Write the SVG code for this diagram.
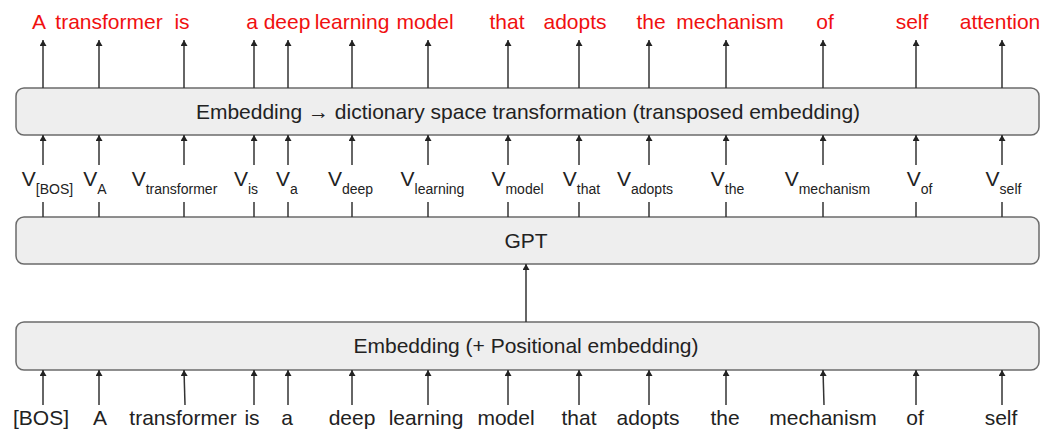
<svg xmlns="http://www.w3.org/2000/svg" width="1043" height="432" viewBox="0 0 1043 432">
<style>
.box{fill:#eeeeee;stroke:#6b6b6b;stroke-width:1.5}
.t{font-family:"Liberation Sans",Arial,sans-serif;font-size:21px;fill:#222;text-anchor:middle}
.red{fill:#f01010}
.sub{font-size:14px}
.c line{stroke:#333;stroke-width:1.5}
</style>
<defs>
<marker id="ah" markerUnits="userSpaceOnUse" markerWidth="6" markerHeight="7" refX="6" refY="3.5" orient="auto">
<path d="M0,0 L6,3.5 L0,7 z" fill="#222"/>
</marker>
</defs>
<rect width="1043" height="432" fill="#fff"/>

<g id="out-words" class="t red">
<text x="39" y="29">A</text>
<text x="109" y="29">transformer</text>
<text x="182" y="29">is</text>
<text x="252" y="29">a</text>
<text x="287" y="29">deep</text>
<text x="352" y="29">learning</text>
<text x="425" y="29">model</text>
<text x="507" y="29">that</text>
<text x="575" y="29">adopts</text>
<text x="651" y="29">the</text>
<text x="730" y="29">mechanism</text>
<text x="825" y="29">of</text>
<text x="912" y="29">self</text>
<text x="1000" y="29">attention</text>
</g>

<g id="unembed">
<rect class="box" x="16" y="88" width="1023" height="47" rx="8"/>
<text class="t" x="528" y="119">Embedding → dictionary space transformation (transposed embedding)</text>
</g>

<g id="vectors" class="t">
<text x="47.5" y="186">V<tspan class="sub" dy="8">[BOS]</tspan></text>
<text x="95" y="186">V<tspan class="sub" dy="8">A</tspan></text>
<text x="174.5" y="186">V<tspan class="sub" dy="8">transformer</tspan></text>
<text x="246" y="186">V<tspan class="sub" dy="8">is</tspan></text>
<text x="287" y="186">V<tspan class="sub" dy="8">a</tspan></text>
<text x="350.5" y="186">V<tspan class="sub" dy="8">deep</tspan></text>
<text x="432.5" y="186">V<tspan class="sub" dy="8">learning</tspan></text>
<text x="517.5" y="186">V<tspan class="sub" dy="8">model</tspan></text>
<text x="581.5" y="186">V<tspan class="sub" dy="8">that</tspan></text>
<text x="645" y="186">V<tspan class="sub" dy="8">adopts</tspan></text>
<text x="727.5" y="186">V<tspan class="sub" dy="8">the</tspan></text>
<text x="827.5" y="186">V<tspan class="sub" dy="8">mechanism</tspan></text>
<text x="919.5" y="186">V<tspan class="sub" dy="8">of</tspan></text>
<text x="1003.5" y="186">V<tspan class="sub" dy="8">self</tspan></text>
</g>

<g id="gpt">
<rect class="box" x="16" y="217" width="1023" height="47" rx="8"/>
<text class="t" x="526" y="248">GPT</text>
</g>

<g id="embedding">
<rect class="box" x="16" y="322" width="1023" height="48" rx="8"/>
<text class="t" x="526" y="353">Embedding (+ Positional embedding)</text>
</g>

<g id="in-words" class="t">
<text x="41" y="425">[BOS]</text>
<text x="100" y="425">A</text>
<text x="183" y="425">transformer</text>
<text x="252" y="425">is</text>
<text x="287" y="425">a</text>
<text x="352" y="425">deep</text>
<text x="426" y="425">learning</text>
<text x="506" y="425">model</text>
<text x="579" y="425">that</text>
<text x="648" y="425">adopts</text>
<text x="725" y="425">the</text>
<text x="823" y="425">mechanism</text>
<text x="915" y="425">of</text>
<text x="1001" y="425">self</text>
</g>

<g id="connectors" class="c">
<!-- top arrows -->
<line x1="43" y1="88" x2="43" y2="40" marker-end="url(#ah)"/>
<line x1="99" y1="88" x2="99" y2="40" marker-end="url(#ah)"/>
<line x1="184" y1="88" x2="184" y2="40" marker-end="url(#ah)"/>
<line x1="254" y1="88" x2="254" y2="40" marker-end="url(#ah)"/>
<line x1="288" y1="88" x2="288" y2="40" marker-end="url(#ah)"/>
<line x1="352" y1="88" x2="352" y2="40" marker-end="url(#ah)"/>
<line x1="428" y1="88" x2="428" y2="40" marker-end="url(#ah)"/>
<line x1="508" y1="88" x2="508" y2="40" marker-end="url(#ah)"/>
<line x1="579" y1="88" x2="579" y2="40" marker-end="url(#ah)"/>
<line x1="649" y1="88" x2="649" y2="40" marker-end="url(#ah)"/>
<line x1="726" y1="88" x2="726" y2="40" marker-end="url(#ah)"/>
<line x1="823" y1="88" x2="823" y2="40" marker-end="url(#ah)"/>
<line x1="916" y1="88" x2="916" y2="40" marker-end="url(#ah)"/>
<line x1="1002" y1="88" x2="1002" y2="40" marker-end="url(#ah)"/>
<!-- middle arrows (upper part) -->
<line x1="43" y1="165" x2="43" y2="135" marker-end="url(#ah)"/>
<line x1="99" y1="165" x2="99" y2="135" marker-end="url(#ah)"/>
<line x1="184" y1="165" x2="184" y2="135" marker-end="url(#ah)"/>
<line x1="254" y1="165" x2="254" y2="135" marker-end="url(#ah)"/>
<line x1="288" y1="165" x2="288" y2="135" marker-end="url(#ah)"/>
<line x1="352" y1="165" x2="352" y2="135" marker-end="url(#ah)"/>
<line x1="428" y1="165" x2="428" y2="135" marker-end="url(#ah)"/>
<line x1="508" y1="165" x2="508" y2="135" marker-end="url(#ah)"/>
<line x1="579" y1="165" x2="579" y2="135" marker-end="url(#ah)"/>
<line x1="649" y1="165" x2="649" y2="135" marker-end="url(#ah)"/>
<line x1="726" y1="165" x2="726" y2="135" marker-end="url(#ah)"/>
<line x1="823" y1="165" x2="823" y2="135" marker-end="url(#ah)"/>
<line x1="916" y1="165" x2="916" y2="135" marker-end="url(#ah)"/>
<line x1="1002" y1="165" x2="1002" y2="135" marker-end="url(#ah)"/>
<!-- middle stubs (lower part) -->
<line x1="43" y1="217" x2="43" y2="202"/>
<line x1="99" y1="217" x2="99" y2="202"/>
<line x1="184" y1="217" x2="184" y2="202"/>
<line x1="254" y1="217" x2="254" y2="202"/>
<line x1="288" y1="217" x2="288" y2="202"/>
<line x1="352" y1="217" x2="352" y2="202"/>
<line x1="428" y1="217" x2="428" y2="202"/>
<line x1="508" y1="217" x2="508" y2="202"/>
<line x1="579" y1="217" x2="579" y2="202"/>
<line x1="649" y1="217" x2="649" y2="202"/>
<line x1="726" y1="217" x2="726" y2="202"/>
<line x1="823" y1="217" x2="823" y2="202"/>
<line x1="916" y1="217" x2="916" y2="202"/>
<line x1="1002" y1="217" x2="1002" y2="202"/>
<!-- embedding to GPT -->
<line x1="526" y1="322" x2="526" y2="264" marker-end="url(#ah)"/>
<!-- bottom arrows -->
<line x1="43" y1="405" x2="43" y2="370" marker-end="url(#ah)"/>
<line x1="99" y1="405" x2="99" y2="370" marker-end="url(#ah)"/>
<line x1="185" y1="405" x2="184" y2="370" marker-end="url(#ah)"/>
<line x1="254" y1="405" x2="254" y2="370" marker-end="url(#ah)"/>
<line x1="288" y1="405" x2="288" y2="370" marker-end="url(#ah)"/>
<line x1="352" y1="405" x2="352" y2="370" marker-end="url(#ah)"/>
<line x1="428" y1="405" x2="428" y2="370" marker-end="url(#ah)"/>
<line x1="508" y1="405" x2="508" y2="370" marker-end="url(#ah)"/>
<line x1="579" y1="405" x2="579" y2="370" marker-end="url(#ah)"/>
<line x1="649" y1="405" x2="649" y2="370" marker-end="url(#ah)"/>
<line x1="726" y1="405" x2="726" y2="370" marker-end="url(#ah)"/>
<line x1="824" y1="405" x2="823" y2="370" marker-end="url(#ah)"/>
<line x1="916" y1="405" x2="916" y2="370" marker-end="url(#ah)"/>
<line x1="1002" y1="405" x2="1002" y2="370" marker-end="url(#ah)"/>
</g>
</svg>
